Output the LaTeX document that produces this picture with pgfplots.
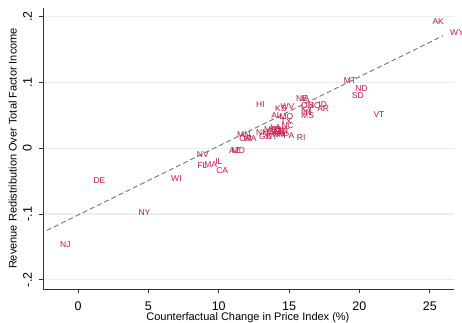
\documentclass[border=0pt]{standalone}
\usepackage{pgfplots}
\pgfplotsset{compat=1.18}
\usepackage{pgfplotstable}
\usepackage{fontspec}
\setmainfont{Liberation Sans}
\definecolor{labred}{RGB}{200,20,70}
\definecolor{gridc}{RGB}{232,240,242}
\pgfplotstableread{
x y label
25.18 0.192 AK
26.44 0.175 WY
18.88 0.102 MT
19.69 0.090 ND
19.45 0.080 SD
20.99 0.051 VT
12.65 0.066 HI
15.49 0.075 NE
15.85 0.075 IA
17.08 0.067 ID
15.85 0.064 OH
16.37 0.064 SC
16.99 0.060 AR
15.85 0.058 KY
15.99 0.054 IN
15.85 0.049 MS
14.38 0.063 WV
14.00 0.060 KS
13.72 0.049 AL
14.31 0.048 MO
14.38 0.040 TX
14.43 0.034 NC
14.59 0.019 PA
15.54 0.016 RI
11.30 0.020 MN
11.46 0.014 OR
11.73 0.014 WA
-1.28 -0.146 NJ
1.09 -0.050 DE
4.29 -0.098 NY
6.61 -0.046 WI
8.44 -0.009 NV
8.48 -0.026 FL
8.96 -0.025 MA
9.74 -0.020 IL
9.81 -0.034 CA
10.73 -0.003 AZ
10.91 -0.004 MD
12.65 0.023 NH
12.86 0.017 GA
13.15 0.022 VA
13.36 0.017 UT
13.22 0.028 ME
13.50 0.025 CO
13.65 0.031 LA
13.79 0.026 TN
14.00 0.029 OK
13.79 0.020 NM
14.22 0.025 CT
14.00 0.022 MI
}\states
\begin{document}
\begin{tikzpicture}
\begin{axis}[
  scale only axis,
  width=410.7bp, height=281bp,
  xmin=-2.49, xmax=26.7,
  ymin=-0.214, ymax=0.213,
  axis x line*=bottom, axis y line*=left,
  axis line style={-, black!80, line width=0.8bp},
  tick align=outside,
  major tick length=4bp,
  tick style={black!80, line width=0.8bp},
  xtick={0,5,10,15,20,25},
  ytick={-0.2,-0.1,0,0.1,0.2},
  yticklabels={-.2,-.1,0,.1,.2},
  ymajorgrids,
  grid style={gridc, line width=1.1bp},
  /pgf/number format/assume math mode=true,
  tick label style={font=\fontsize{12.5bp}{14bp}\selectfont},
  xticklabel style={anchor=north, inner sep=0pt},
  yticklabel style={rotate=90, anchor=south, inner sep=0pt},
  xticklabel shift=8.5bp,
  yticklabel shift=7bp,
  every axis x label/.style={at={(axis description cs:0.499,-0.1032)}, anchor=center},
  every axis y label/.style={at={(axis description cs:-0.0738,0.5)}, anchor=center, rotate=90},
  label style={font=\fontsize{11bp}{13bp}\selectfont},
  xlabel={Counterfactual Change in Price Index (\%)},
  ylabel={Revenue Redistribution Over Total Factor Income},
  clip=false,
]
\addplot[black!55, line width=0.9bp, dash pattern=on 5bp off 3bp] coordinates {(-2.22,-0.125) (25.96,0.171)};
\addplot[only marks, mark=none, nodes near coords, point meta=explicit symbolic,
  nodes near coords style={anchor=west, inner sep=0pt, text=labred, font=\fontsize{8.5bp}{9bp}\selectfont}]
  table[x=x, y=y, meta=label] {\states};
\end{axis}
\pgfresetboundingbox
\path (-43bp,-34bp) rectangle (419bp,289bp);
\end{tikzpicture}
\end{document}
